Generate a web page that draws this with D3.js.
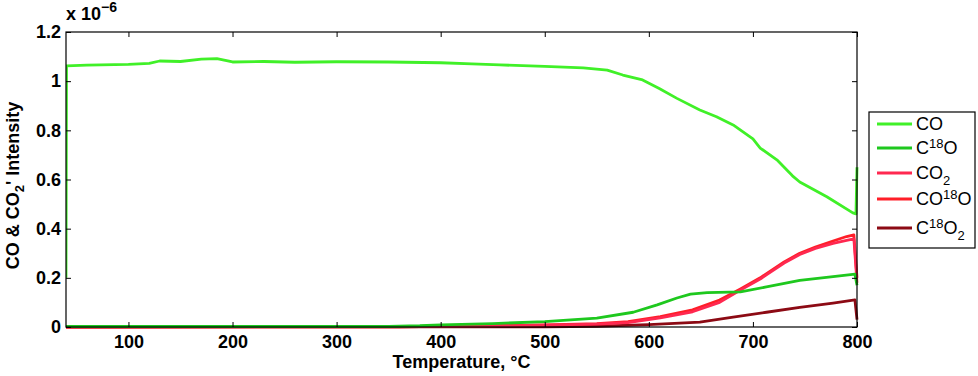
<!DOCTYPE html>
<html>
<head>
<meta charset="utf-8">
<script src="https://cdn.jsdelivr.net/npm/d3@7"></script>
<style>
body { margin: 0; background: #fff; }
svg { font-family: "Liberation Sans", Arial, sans-serif; }
.axis text { font-size: 18px; font-weight: bold; fill: #000; }
.axis line { stroke: #000; }
</style>
</head>
<body>
<div id="chart"></div>
<script>
// temperature (°C) and intensity (x 1e-6) per series
var coT = [40, 40.5, 60, 100, 120, 130, 150, 170, 185, 200, 230, 260, 300, 350, 400, 430, 457, 500, 537, 560, 575, 594, 610, 627, 649, 665, 681, 700, 707, 723, 738, 745, 771, 796, 799, 800];
var coV = [0.2, 1.062, 1.065, 1.068, 1.072, 1.082, 1.08, 1.09, 1.092, 1.078, 1.08, 1.077, 1.079, 1.078, 1.075, 1.07, 1.066, 1.06, 1.054, 1.045, 1.025, 1.005, 0.97, 0.93, 0.883, 0.855, 0.822, 0.765, 0.728, 0.68, 0.615, 0.59, 0.53, 0.464, 0.46, 0.65];

var c18oT = [40, 350, 380, 400, 450, 500, 550, 585, 608, 627, 640, 656, 688, 713, 745, 777, 798, 800];
var c18oV = [0.002, 0.002, 0.005, 0.009, 0.014, 0.022, 0.036, 0.06, 0.09, 0.118, 0.134, 0.14, 0.143, 0.163, 0.19, 0.205, 0.215, 0.17];

var co2T = [40, 360, 400, 450, 500, 550, 580, 611, 642, 668, 688, 707, 714, 730, 745, 760, 777, 790, 797, 800];
var co2V = [0, 0.001, 0.003, 0.005, 0.008, 0.012, 0.018, 0.037, 0.062, 0.1, 0.15, 0.195, 0.215, 0.26, 0.295, 0.32, 0.34, 0.352, 0.358, 0.18];

var co18oT = [40, 360, 400, 450, 500, 550, 580, 611, 642, 668, 688, 707, 730, 745, 760, 777, 790, 797, 800];
var co18oV = [0, 0.001, 0.003, 0.005, 0.009, 0.014, 0.022, 0.042, 0.07, 0.11, 0.155, 0.2, 0.265, 0.3, 0.325, 0.35, 0.368, 0.375, 0.2];

var c18o2T = [40, 500, 550, 600, 649, 681, 713, 745, 777, 798, 800];
var c18o2V = [0, 0.001, 0.003, 0.01, 0.02, 0.04, 0.06, 0.08, 0.097, 0.11, 0.03];

var seriesNames = ["CO", "C18O", "CO2", "CO18O", "C18O2"];
var seriesColors = ["#40f028", "#1ec81e", "#ff2850", "#ff1e28", "#8c0a14"];
var xTicks = [100, 200, 300, 400, 500, 600, 700, 800];
var yTicks = [0, 0.2, 0.4, 0.6, 0.8, 1, 1.2];

var seriesT = [coT, c18oT, co2T, co18oT, c18o2T];
var seriesV = [coV, c18oV, co2V, co18oV, c18o2V];

var W = 978, H = 376;
var margin = {left: 66, top: 32, right: 121, bottom: 49};
var w = W - margin.left - margin.right,
	h = H - margin.top - margin.bottom;

var svg = d3.select("#chart").append("svg")
	.attr("width", W)
	.attr("height", H);

var g = svg.append("g")
	.attr("transform", "translate(" + margin.left + "," + margin.top + ")");

var x = d3.scaleLinear().domain([40, 800]).range([0, w]);
var y = d3.scaleLinear().domain([0, 1.2]).range([h, 0]);

g.append("clipPath").attr("id", "plotClip")
	.append("rect").attr("x", 0).attr("y", -2).attr("width", w + 2).attr("height", h + 4);

var line = d3.line()
	.x(function(d) { return x(d[0]); })
	.y(function(d) { return y(d[1]); });

// draw last series first so CO ends up on top like the original
var lines = g.append("g").attr("clip-path", "url(#plotClip)");
[4, 3, 2, 1, 0].forEach(function(i) {
	var pts = seriesT[i].map(function(t, j) { return [t, seriesV[i][j]]; });
	lines.append("path")
		.datum(pts)
		.attr("d", line)
		.style("fill", "none")
		.style("stroke", seriesColors[i])
		.style("stroke-width", 2.8)
		.style("stroke-linejoin", "round");
});

// axes, ticks pointing in
g.append("g").attr("class", "axis")
	.attr("transform", "translate(0," + h + ")")
	.call(d3.axisBottom(x).tickValues(xTicks).tickSize(-5).tickPadding(8).tickFormat(d3.format("d")))
	.call(function(s) { s.select(".domain").remove(); });

g.append("g").attr("class", "axis")
	.call(d3.axisTop(x).tickValues(xTicks).tickSize(-5).tickFormat(""))
	.call(function(s) { s.select(".domain").remove(); });

g.append("g").attr("class", "axis")
	.call(d3.axisLeft(y).tickValues(yTicks).tickSize(-5).tickPadding(5).tickFormat(function(d) { return d3.format("~g")(d); }))
	.call(function(s) { s.select(".domain").remove(); });

g.append("g").attr("class", "axis")
	.attr("transform", "translate(" + w + ",0)")
	.call(d3.axisRight(y).tickValues(yTicks).tickSize(-5).tickFormat(""))
	.call(function(s) { s.select(".domain").remove(); });

g.append("rect")
	.attr("width", w)
	.attr("height", h)
	.style("fill", "none")
	.style("stroke", "#000")
	.style("stroke-width", 1.2);

// exponent
var expo = g.append("text")
	.attr("x", 0)
	.attr("y", -12)
	.style("font-size", "18px")
	.style("font-weight", "bold");
expo.append("tspan").text("x 10");
expo.append("tspan").attr("dy", -8).style("font-size", "14px").text("\u22126");

// axis titles
g.append("text")
	.attr("x", x(420))
	.attr("y", h + 41)
	.attr("text-anchor", "middle")
	.style("font-size", "18px")
	.style("font-weight", "bold")
	.text("Temperature, \u00b0C");

var yl = svg.append("text")
	.attr("transform", "translate(19," + (margin.top + h / 2 + 6) + ") rotate(-90)")
	.attr("text-anchor", "middle")
	.style("font-size", "18px")
	.style("font-weight", "bold");
yl.append("tspan").text("CO & CO");
yl.append("tspan").attr("dy", 5).style("font-size", "13px").text("2");
yl.append("tspan").attr("dy", -5).text("' Intensity");

// legend
var legend = svg.append("g").attr("transform", "translate(869,112)");
legend.append("rect")
	.attr("width", 106)
	.attr("height", 136)
	.style("fill", "#fff")
	.style("stroke", "#000")
	.style("stroke-width", 1.2);

var rowY = [12, 36, 61, 87, 116];
// label parts: [text, shift] where shift 0 normal, -1 sup, 1 sub
var labelParts = [
	[["CO", 0]],
	[["C", 0], ["18", -1], ["O", 0]],
	[["CO", 0], ["2", 1]],
	[["CO", 0], ["18", -1], ["O", 0]],
	[["C", 0], ["18", -1], ["O", 0], ["2", 1]]
];

seriesNames.forEach(function(name, i) {
	var row = legend.append("g").attr("transform", "translate(0," + rowY[i] + ")");
	row.append("line")
		.attr("x1", 8).attr("x2", 43)
		.attr("y1", 0).attr("y2", 0)
		.style("stroke", seriesColors[i])
		.style("stroke-width", 2.8);
	var t = row.append("text")
		.attr("x", 47)
		.attr("y", 6)
		.style("font-size", "18px");
	var prev = 0;
	labelParts[i].forEach(function(p) {
		var shift = p[1] * 6;
		t.append("tspan")
			.attr("dy", shift - prev)
			.style("font-size", p[1] === 0 ? "18px" : "13px")
			.text(p[0]);
		prev = shift;
	});
});
</script>
</body>
</html>
